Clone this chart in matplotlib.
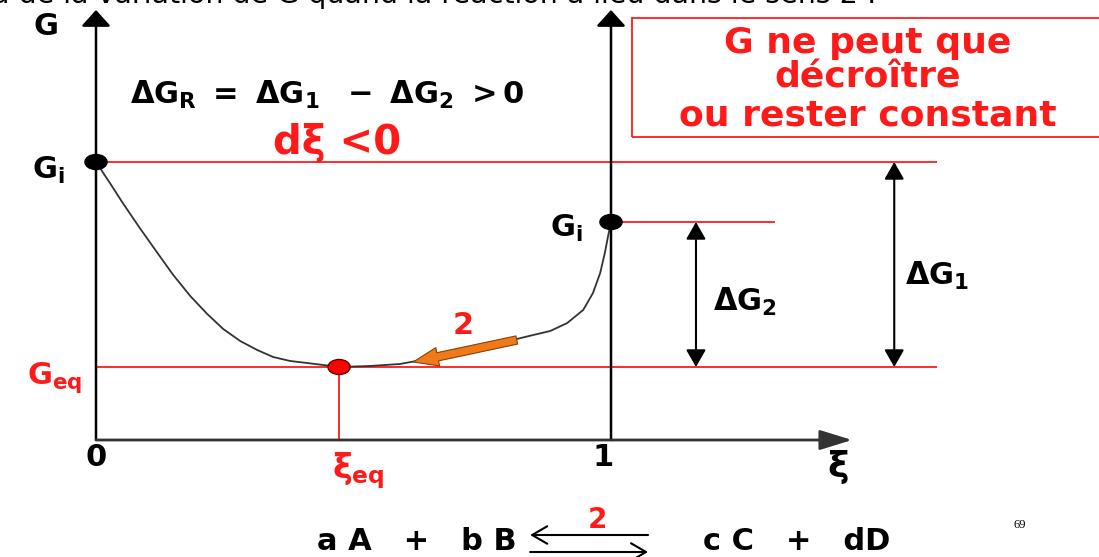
import numpy as np
import matplotlib
matplotlib.use('Agg')
from matplotlib import pyplot as plt
from matplotlib.patches import Ellipse, Rectangle

plt.rcParams['font.family'] = ['DejaVu Sans']
plt.rcParams['mathtext.fontset'] = 'custom'
plt.rcParams['mathtext.rm'] = 'DejaVu Sans:bold'
plt.rcParams['mathtext.it'] = 'DejaVu Sans:bold'
plt.rcParams['mathtext.bf'] = 'DejaVu Sans:bold'

# G(xi) curve for the reaction, read point by point
xi = [0.0, 0.027, 0.052, 0.085, 0.118, 0.150, 0.183, 0.216, 0.247, 0.280,
      0.313, 0.344, 0.377, 0.410, 0.441, 0.472, 0.532, 0.590, 0.654, 0.720,
      0.784, 0.817, 0.849, 0.882, 0.915, 0.946, 0.965, 0.979, 0.988, 0.994, 1.0]
G = [2.78, 2.57, 2.37, 2.12, 1.88, 1.65, 1.44, 1.26, 1.11, 0.99,
     0.90, 0.83, 0.79, 0.77, 0.75, 0.73, 0.74, 0.76, 0.82, 0.88,
     0.97, 1.01, 1.05, 1.09, 1.17, 1.30, 1.47, 1.67, 1.87, 2.03, 2.18]

G_i_left = 2.78
G_i_right = 2.18
G_eq = 0.73
xi_eq = 0.472

RED = '#ff1a1a'
ORANGE = '#f07a1a'

fig = plt.figure(figsize=(10.99, 5.57), dpi=100)
ax = fig.add_axes([0, 0, 1, 1])
ax.set_xlim(-96 / 515, 1003 / 515)
ax.set_ylim(-1.17, 4.40)
ax.axis('off')

# title line, mostly above the top edge
ax.text(1.515, 4.37, 'a de la variation de G quand la réaction a lieu dans le sens 2 :',
        ha='right', va='baseline', fontsize=20.5, color='black')

# axes
ax.annotate('', xy=(0, 4.30), xytext=(0, 0),
            arrowprops=dict(arrowstyle='-|>,head_length=0.55,head_width=0.5',
                            mutation_scale=18, lw=1.8, color='black',
                            shrinkA=0, shrinkB=0))
ax.annotate('', xy=(1, 4.30), xytext=(1, 0),
            arrowprops=dict(arrowstyle='-|>,head_length=0.55,head_width=0.5',
                            mutation_scale=18, lw=1.8, color='black',
                            shrinkA=0, shrinkB=0))
ax.annotate('', xy=(1.468, 0), xytext=(0, 0),
            arrowprops=dict(arrowstyle='-|>,head_length=1.1,head_width=0.34',
                            mutation_scale=18, lw=2.0, color='#333333',
                            shrinkA=0, shrinkB=0))

# reference levels
ax.hlines(G_i_left, 0, 1.633, color=RED, lw=1.3)
ax.hlines(G_eq, 0, 1.633, color=RED, lw=1.3)
ax.hlines(G_i_right, 1, 1.318, color=RED, lw=1.3)
ax.vlines(xi_eq, 0, G_eq, color=RED, lw=1.3)

# curve
ax.plot(xi, G, color='#333333', lw=1.3)

# delta G arrows
for x, top in [(1.165, G_i_right), (1.55, G_i_left)]:
    ax.annotate('', xy=(x, top), xytext=(x, G_eq),
                arrowprops=dict(arrowstyle='<|-|>,head_length=0.7,head_width=0.4',
                                mutation_scale=15, lw=1.5, color='black',
                                shrinkA=0, shrinkB=0))

# direction of evolution, sens 2
ax.annotate('', xy=(0.616, 0.78), xytext=(0.817, 1.00),
            arrowprops=dict(arrowstyle='simple,head_length=1.2,head_width=0.9,tail_width=0.4',
                            mutation_scale=15, fc=ORANGE, ec='#8a4000', lw=0.8,
                            shrinkA=0, shrinkB=0))
ax.text(0.713, 1.15, '2', color=RED, fontsize=22, fontweight='bold',
        ha='center', va='center')

# points
ax.add_patch(Ellipse((0, G_i_left), 0.043, 0.15, fc='black', ec='black', zorder=5))
ax.add_patch(Ellipse((1, G_i_right), 0.043, 0.15, fc='black', ec='black', zorder=5))
ax.add_patch(Ellipse((xi_eq, G_eq), 0.043, 0.15, fc='red', ec='#660000', lw=1, zorder=5))

# labels
ax.text(-0.097, 4.14, 'G', fontsize=22, fontweight='bold', ha='center', va='center')
ax.text(-0.062, 2.70, r'$G_i$', fontsize=22, ha='right', va='center')
ax.text(0.944, 2.12, r'$G_i$', fontsize=22, ha='right', va='center')
ax.text(-0.027, 0.62, r'$G_{eq}$', fontsize=22, color=RED, ha='right', va='center')
ax.text(0.066, 3.45, r'$\Delta G_R\ =\ \Delta G_1\ \ -\ \Delta G_2\ >0$', fontsize=22,
        ha='left', va='center')
ax.text(0.344, 2.97, 'dξ <0', fontsize=29, fontweight='bold', color=RED,
        ha='left', va='center')
ax.text(1.198, 1.38, r'$\Delta G_2$', fontsize=22, ha='left', va='center')
ax.text(1.571, 1.64, r'$\Delta G_1$', fontsize=22, ha='left', va='center')
ax.text(0, -0.17, '0', fontsize=22, fontweight='bold', ha='center', va='center')
ax.text(0.984, -0.17, '1', fontsize=22, fontweight='bold', ha='center', va='center')
ax.text(0.509, -0.31, r'$\xi_{eq}$', fontsize=24, color=RED, ha='center', va='center')
ax.text(1.441, -0.27, r'$\xi$', fontsize=26, ha='center', va='center')

# message box
ax.add_patch(Rectangle((1.041, 3.03), 0.955, 1.19, fill=False, ec=RED, lw=1.3))
for y, line in zip([3.97, 3.62, 3.25], ['G ne peut que', 'décroître', 'ou rester constant']):
    ax.text(1.499, y, line, fontsize=26, fontweight='bold', color=RED,
            ha='center', va='center')

# reaction equation
ax.text(0.817, -1.10, 'a A   +   b B', fontsize=22, fontweight='bold',
        ha='right', va='baseline')
ax.text(1.179, -1.10, 'c C   +   dD', fontsize=22, fontweight='bold',
        ha='left', va='baseline')
ax.annotate('', xy=(0.843, -0.95), xytext=(1.072, -0.95),
            arrowprops=dict(arrowstyle='->,head_length=0.6,head_width=0.35',
                            mutation_scale=18, lw=1.5, color='black',
                            shrinkA=0, shrinkB=0))
ax.annotate('', xy=(1.072, -1.12), xytext=(0.843, -1.12),
            arrowprops=dict(arrowstyle='->,head_length=0.6,head_width=0.35',
                            mutation_scale=18, lw=1.5, color='black',
                            shrinkA=0, shrinkB=0))
ax.text(0.973, -0.80, '2', fontsize=20, fontweight='bold', color=RED,
        ha='center', va='center')
ax.text(1.794, -0.85, '69', fontsize=9, family='Liberation Serif', ha='center', va='center')

fig.savefig('out.png', dpi=100)
